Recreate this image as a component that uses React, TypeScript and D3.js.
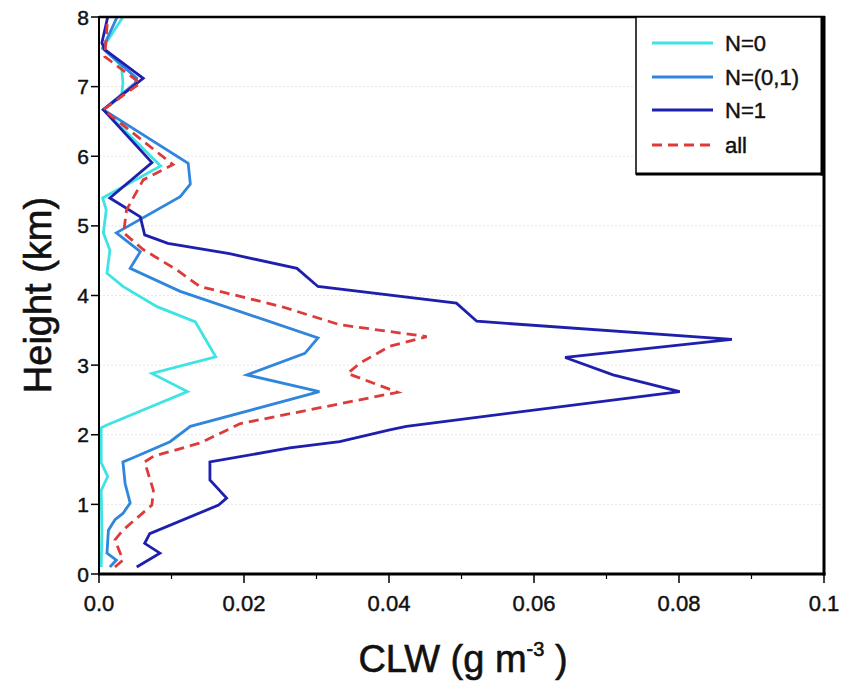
import React from "react";
import * as d3 from "d3";

// ---- data (height in km, CLW in g m^-3) ----
const n0Heights = [0.1, 0.6, 1.2, 1.4, 1.6, 2.1, 2.14, 2.62, 2.88, 3.12, 3.62, 3.84, 4.13, 4.32, 4.65, 4.9, 5.23, 5.4, 5.86, 6.67, 6.86, 7.05, 7.3, 7.55, 8.0];
const n0Values = [0.0003, 0.0004, 0.0003, 0.0012, 0.0003, 0.0003, 0.0011, 0.0122, 0.0073, 0.0161, 0.0133, 0.008, 0.0033, 0.0011, 0.0015, 0.0006, 0.001, 0.0005, 0.0085, 0.0006, 0.0031, 0.0033, 0.0031, 0.0005, 0.0033];

const nMidHeights = [0.1, 0.2, 0.3, 0.63, 0.78, 0.87, 1.02, 1.3, 1.61, 1.67, 1.9, 2.12, 2.62, 2.86, 3.17, 3.39, 4.06, 4.39, 4.63, 4.9, 5.42, 5.6, 5.9, 6.67, 7.05, 7.12, 7.55, 8.0];
const nMidValues = [0.0015, 0.0024, 0.0011, 0.0013, 0.0022, 0.0033, 0.0043, 0.0036, 0.0033, 0.0047, 0.0098, 0.0126, 0.0304, 0.0204, 0.0284, 0.0302, 0.0112, 0.0043, 0.0057, 0.0024, 0.0112, 0.0126, 0.0123, 0.0006, 0.005, 0.0052, 0.0005, 0.0025];

const n1Heights = [0.1, 0.3, 0.44, 0.58, 0.99, 1.09, 1.35, 1.61, 1.81, 1.9, 2.07, 2.12, 2.62, 2.86, 3.11, 3.37, 3.63, 3.89, 4.13, 4.39, 4.6, 4.75, 4.87, 5.13, 5.4, 5.91, 6.67, 7.12, 7.53, 7.63, 8.0];
const n1Values = [0.0052, 0.0084, 0.0063, 0.007, 0.0165, 0.0176, 0.0153, 0.0153, 0.0263, 0.0332, 0.0401, 0.0424, 0.0801, 0.0709, 0.0643, 0.0873, 0.0521, 0.0493, 0.0302, 0.0273, 0.018, 0.0095, 0.0063, 0.0057, 0.0015, 0.0073, 0.0006, 0.0061, 0.0008, 0.0004, 0.0012];

const allHeights = [0.1, 0.2, 0.49, 0.63, 0.99, 1.2, 1.61, 1.69, 1.88, 2.16, 2.61, 2.88, 3.03, 3.27, 3.41, 3.58, 3.84, 4.13, 4.37, 4.66, 4.9, 5.23, 5.66, 5.88, 6.67, 7.05, 7.43, 8.0];
const allValues = [0.0022, 0.0033, 0.0022, 0.0033, 0.0073, 0.0075, 0.0063, 0.0075, 0.0139, 0.0195, 0.0412, 0.0343, 0.036, 0.0401, 0.0452, 0.0332, 0.0252, 0.0139, 0.0107, 0.0061, 0.0034, 0.0038, 0.0061, 0.0102, 0.0006, 0.0057, 0.0008, 0.0012];

const seriesNames = ["N=0", "N=(0,1)", "N=1", "all"];
const seriesColors = ["#3fe3e3", "#2f86dc", "#1f1fae", "#dd3a3a"];
const xTickValues = [0, 0.02, 0.04, 0.06, 0.08, 0.1];
const xTickLabels = ["0.0", "0.02", "0.04", "0.06", "0.08", "0.1"];
const yTickValues = [0, 1, 2, 3, 4, 5, 6, 7, 8];

const FONT = "'Liberation Sans', Arial, Helvetica, sans-serif";

export default function App() {
  const W = 855, H = 683;
  const left = 99, right = 824, top = 17, bottom = 574;
  const x = d3.scaleLinear().domain([0, 0.1]).range([left, right]);
  const y = d3.scaleLinear().domain([0, 8]).range([bottom, top]);
  const line = d3.line<[number, number]>().x(d => x(d[1])).y(d => y(d[0]));

  const series = [
    { h: n0Heights, v: n0Values },
    { h: nMidHeights, v: nMidValues },
    { h: n1Heights, v: n1Values },
    { h: allHeights, v: allValues },
  ];

  const minor = d3.range(0.01, 0.1, 0.02);

  const legX = 636, legY = top, legW = 186, legH = 157;
  const legRows = [43, 77, 110, 145];
  const txtStroke = { stroke: "#111", strokeWidth: 0.45 };

  return (
    <svg width={W} height={H} style={{ position: "absolute", left: 0, top: 0, background: "#fff" }}>
      <rect x={0} y={0} width={W} height={H} fill="#fff" />
      {/* grid */}
      {yTickValues.slice(1, -1).map(t => (
        <line key={"g" + t} x1={left} x2={right} y1={y(t)} y2={y(t)} stroke="#e6e6e6" strokeWidth={1} strokeDasharray="2,2" />
      ))}
      {/* series */}
      {series.map((s, i) => (
        <path key={i}
          d={line(s.h.map((h, j) => [h, s.v[j]] as [number, number])) || ""}
          fill="none" stroke={seriesColors[i]} strokeWidth={2.8}
          strokeLinejoin="miter" strokeDasharray={i === 3 ? "10,6" : undefined} />
      ))}
      {/* frame */}
      <line x1={left} x2={left} y1={top - 1} y2={bottom + 1} stroke="#000" strokeWidth={2} />
      <line x1={left} x2={right + 1} y1={top} y2={top} stroke="#000" strokeWidth={2.5} />
      <line x1={right} x2={right} y1={top - 1} y2={bottom + 1.5} stroke="#000" strokeWidth={3} />
      <line x1={left - 1} x2={right + 1.5} y1={bottom} y2={bottom} stroke="#000" strokeWidth={3} />
      {/* y ticks */}
      {yTickValues.map(t => (
        <g key={"y" + t}>
          <line x1={left - 8} x2={left} y1={y(t)} y2={y(t)} stroke="#000" strokeWidth={1.5} />
          <text x={left - 10} y={y(t)} dy="0.36em" textAnchor="end" fontFamily={FONT} fontSize={21} fill="#111" {...txtStroke}>{t}</text>
        </g>
      ))}
      {/* x ticks */}
      {xTickValues.map((t, i) => (
        <g key={"x" + t}>
          <line x1={x(t)} x2={x(t)} y1={bottom} y2={bottom + 9} stroke="#000" strokeWidth={1.5} />
          <text x={x(t)} y={611} textAnchor="middle" fontFamily={FONT} fontSize={22} fill="#111" {...txtStroke}>{xTickLabels[i]}</text>
        </g>
      ))}
      {minor.map(t => (
        <line key={"m" + t} x1={x(t)} x2={x(t)} y1={bottom} y2={bottom + 5} stroke="#000" strokeWidth={1.2} />
      ))}
      {/* axis titles */}
      <text x={463} y={672} textAnchor="middle" fontFamily={FONT} fontSize={38} fill="#111" stroke="#111" strokeWidth={0.6}>
        CLW (g m<tspan dy={-16} fontSize={20}>-3</tspan><tspan dy={16}> )</tspan>
      </text>
      <text transform={`translate(51,${295}) rotate(-90)`} textAnchor="middle" fontFamily={FONT} fontSize={38} fill="#111" stroke="#111" strokeWidth={0.6}>Height (km)</text>
      {/* legend */}
      <rect x={legX} y={legY} width={legW} height={legH} fill="#fff" stroke="#000" strokeWidth={1.5} />
      <line x1={legX} x2={legX + legW + 1.5} y1={legY + legH} y2={legY + legH} stroke="#000" strokeWidth={3} />
      <line x1={legX + legW} x2={legX + legW} y1={legY} y2={legY + legH + 1.5} stroke="#000" strokeWidth={3} />
      {seriesNames.map((n, i) => (
        <g key={"l" + i}>
          <line x1={652} x2={713} y1={legRows[i]} y2={legRows[i]} stroke={seriesColors[i]} strokeWidth={2.8}
            strokeDasharray={i === 3 ? "10,6" : undefined} />
          <text x={725} y={legRows[i]} dy="0.36em" fontFamily={FONT} fontSize={22} fill="#111" {...txtStroke}>{n}</text>
        </g>
      ))}
    </svg>
  );
}
